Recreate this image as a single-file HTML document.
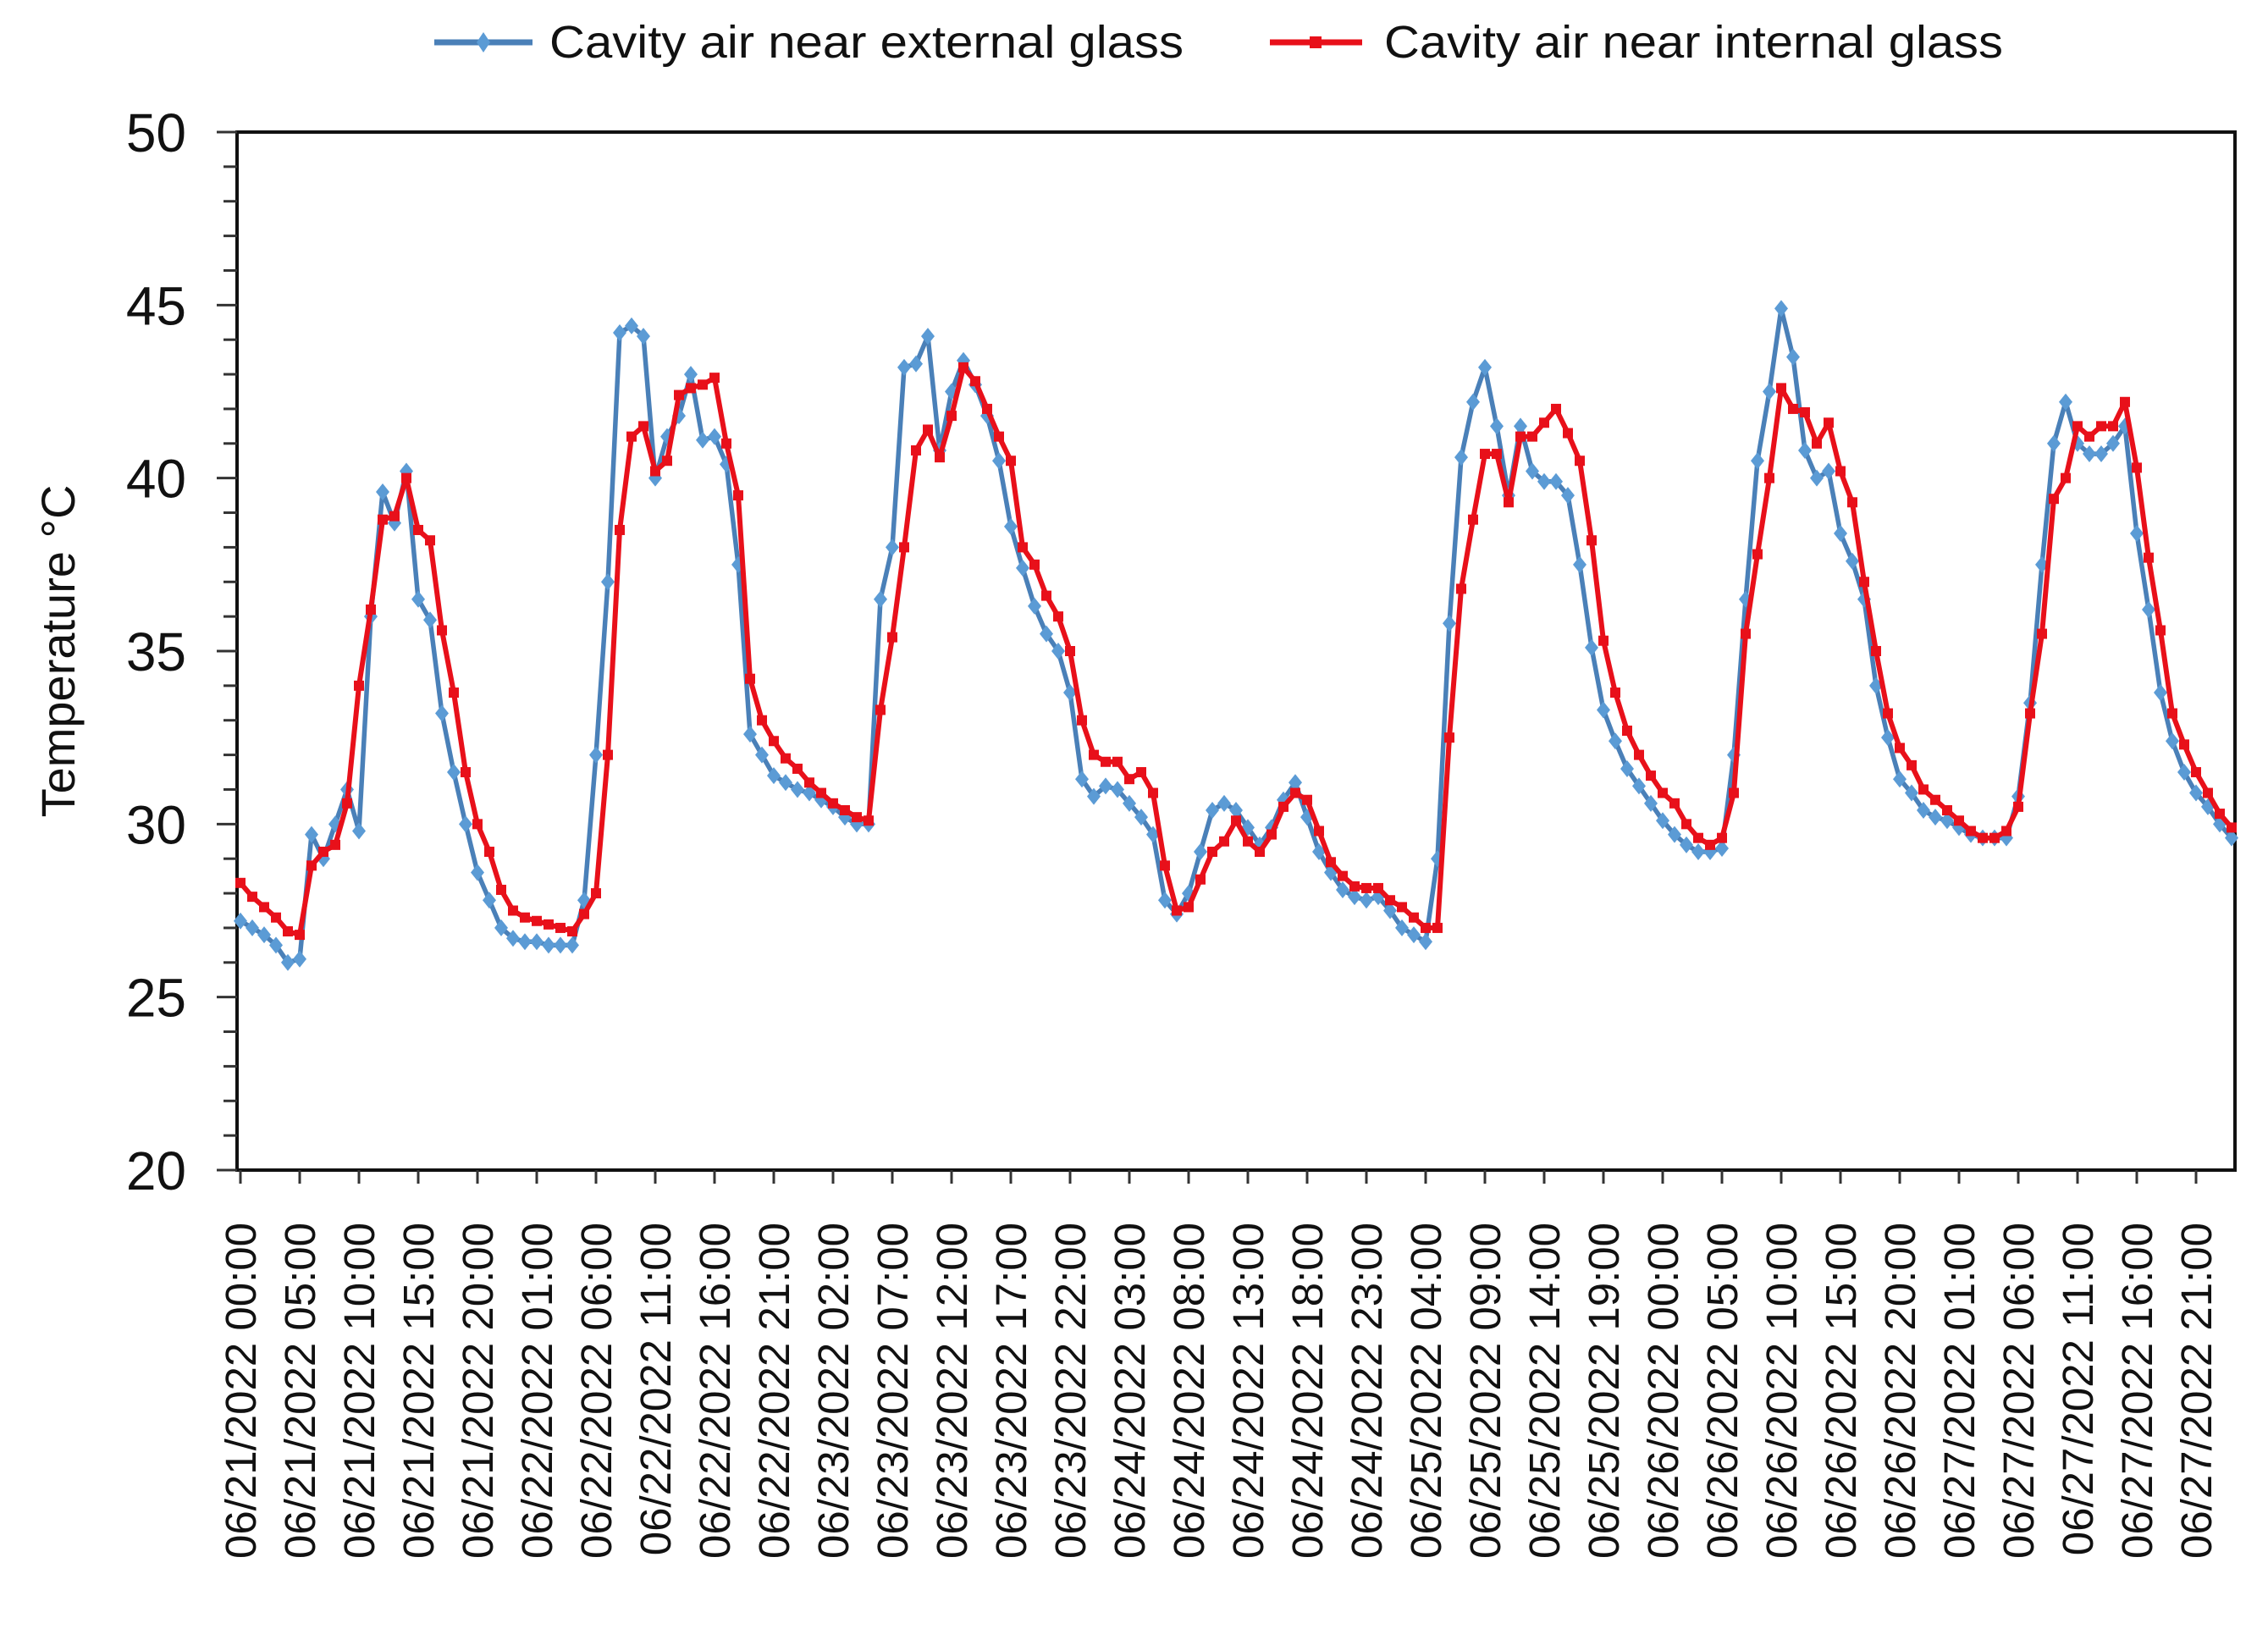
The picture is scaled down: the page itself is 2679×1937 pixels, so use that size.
<!DOCTYPE html>
<html><head><meta charset="utf-8"><style>
html,body{margin:0;padding:0;background:#fff;}
svg{display:block;font-family:"Liberation Sans",Arial,sans-serif;}
</style></head><body>
<svg id="chart" width="2679" height="1937" viewBox="0 0 2679 1937" xmlns="http://www.w3.org/2000/svg">
<rect width="2679" height="1937" fill="#fff"/>
<g>
 <g>
  <line x1="513" y1="50" x2="629" y2="50" stroke="#4a80b8" stroke-width="7"/>
  <path d="M571 38 L579 50 L571 62 L563 50 Z" fill="#5b9bd5"/>
  <text x="649" y="68" font-size="54" textLength="749" lengthAdjust="spacingAndGlyphs" fill="#111">Cavity air near external glass</text>
 </g>
 <g>
  <line x1="1500" y1="50" x2="1609" y2="50" stroke="#e8101a" stroke-width="7"/>
  <rect x="1547" y="43" width="14" height="14" fill="#e8101a"/>
  <text x="1635" y="68" font-size="54" textLength="731" lengthAdjust="spacingAndGlyphs" fill="#111">Cavity air near internal glass</text>
 </g>
</g>
<text transform="translate(88,769) rotate(-90)" text-anchor="middle" font-size="56" fill="#111">Temperature °C</text>
<g id="axes"></g>
<g id="series"></g>
</svg>
<script>
const yTicks=[20,25,30,35,40,45,50];
const xTickHours=[0,5,10,15,20,25,30,35,40,45,50,55,60,65,70,75,80,85,90,95,100,105,110,115,120,125,130,135,140,145,150,155,160,165];
const xTickLabels=["06/21/2022 00:00","06/21/2022 05:00","06/21/2022 10:00","06/21/2022 15:00","06/21/2022 20:00","06/22/2022 01:00","06/22/2022 06:00","06/22/2022 11:00","06/22/2022 16:00","06/22/2022 21:00","06/23/2022 02:00","06/23/2022 07:00","06/23/2022 12:00","06/23/2022 17:00","06/23/2022 22:00","06/24/2022 03:00","06/24/2022 08:00","06/24/2022 13:00","06/24/2022 18:00","06/24/2022 23:00","06/25/2022 04:00","06/25/2022 09:00","06/25/2022 14:00","06/25/2022 19:00","06/26/2022 00:00","06/26/2022 05:00","06/26/2022 10:00","06/26/2022 15:00","06/26/2022 20:00","06/27/2022 01:00","06/27/2022 06:00","06/27/2022 11:00","06/27/2022 16:00","06/27/2022 21:00"];
const externalTemps=[27.2,27.0,26.8,26.5,26.0,26.1,29.7,29.0,30.0,31.0,29.8,36.0,39.6,38.7,40.2,36.5,35.9,33.2,31.5,30.0,28.6,27.8,27.0,26.7,26.6,26.6,26.5,26.5,26.5,27.8,32.0,37.0,44.2,44.4,44.1,40.0,41.2,41.8,43.0,41.1,41.2,40.4,37.5,32.6,32.0,31.4,31.2,31.0,30.9,30.7,30.5,30.2,30.0,30.0,36.5,38.0,43.2,43.3,44.1,40.8,42.5,43.4,42.7,41.8,40.5,38.6,37.4,36.3,35.5,35.0,33.8,31.3,30.8,31.1,31.0,30.6,30.2,29.7,27.8,27.4,28.0,29.2,30.4,30.6,30.4,29.9,29.4,29.9,30.7,31.2,30.2,29.2,28.6,28.1,27.9,27.8,27.9,27.5,27.0,26.8,26.6,29.0,35.8,40.6,42.2,43.2,41.5,39.5,41.5,40.2,39.9,39.9,39.5,37.5,35.1,33.3,32.4,31.6,31.1,30.6,30.1,29.7,29.4,29.2,29.2,29.3,32.0,36.5,40.5,42.5,44.9,43.5,40.8,40.0,40.2,38.4,37.6,36.5,34.0,32.5,31.3,30.9,30.4,30.2,30.1,29.9,29.7,29.6,29.6,29.6,30.8,33.5,37.5,41.0,42.2,41.0,40.7,40.7,41.0,41.5,38.4,36.2,33.8,32.4,31.5,30.9,30.5,30.0,29.6];
const internalTemps=[28.3,27.9,27.6,27.3,26.9,26.8,28.8,29.2,29.4,30.6,34.0,36.2,38.8,38.9,40.0,38.5,38.2,35.6,33.8,31.5,30.0,29.2,28.1,27.5,27.3,27.2,27.1,27.0,26.9,27.4,28.0,32.0,38.5,41.2,41.5,40.2,40.5,42.4,42.6,42.7,42.9,41.0,39.5,34.2,33.0,32.4,31.9,31.6,31.2,30.9,30.6,30.4,30.2,30.1,33.3,35.4,38.0,40.8,41.4,40.6,41.8,43.2,42.8,42.0,41.2,40.5,38.0,37.5,36.6,36.0,35.0,33.0,32.0,31.8,31.8,31.3,31.5,30.9,28.8,27.5,27.6,28.4,29.2,29.5,30.1,29.5,29.2,29.7,30.5,30.9,30.7,29.8,28.9,28.5,28.2,28.15,28.15,27.8,27.6,27.3,27.0,27.0,32.5,36.8,38.8,40.7,40.7,39.3,41.2,41.2,41.6,42.0,41.3,40.5,38.2,35.3,33.8,32.7,32.0,31.4,30.9,30.6,30.0,29.6,29.4,29.6,30.9,35.5,37.8,40.0,42.6,42.0,41.9,41.0,41.6,40.2,39.3,37.0,35.0,33.2,32.2,31.7,31.0,30.7,30.4,30.1,29.8,29.6,29.6,29.8,30.5,33.2,35.5,39.4,40.0,41.5,41.2,41.5,41.5,42.2,40.3,37.7,35.6,33.2,32.3,31.5,30.9,30.3,29.9];

const NS="http://www.w3.org/2000/svg";
const L=280,R=2640,T=156,B=1382,X0=284,PXH=14.0;
function xs(h){return X0+h*PXH;}
function ys(v){return B-(v-20)*(B-T)/30;}
function mk(tag,attrs,parent){const e=document.createElementNS(NS,tag);for(const k in attrs)e.setAttribute(k,attrs[k]);parent.appendChild(e);return e;}
const axes=document.getElementById('axes'),ser=document.getElementById('series');

const frame=mk('rect',{x:L,y:T,width:R-L,height:B-T,fill:'none',stroke:'#111','stroke-width':4},axes);


for(let v=20;v<=50;v++){
  const t=mk('line',{x1:L-(v%5===0?24:16),x2:L,y1:ys(v),y2:ys(v),stroke:'#333','stroke-width':3},axes);
  
  
}
yTicks.forEach(v=>{
  const t=mk('text',{x:220,y:ys(v)+23,'text-anchor':'end','font-size':64,fill:'#111'},axes);
  t.textContent=v;
  
  
});
xTickHours.forEach((h,i)=>{
  const tk=mk('line',{x1:xs(h),x2:xs(h),y1:B,y2:B+16,stroke:'#333','stroke-width':3},axes);
  
  
  if(i<xTickLabels.length){
    const t=mk('text',{transform:`translate(${xs(h)+18},1444) rotate(-90)`,'text-anchor':'end','font-size':51,fill:'#111'},axes);
    t.textContent=xTickLabels[i];
    
    
  }
});
function drawSeries(vals,color,mcolor,shape,name,sw){
  const g=mk('g',{},ser);
  
  
  const pts=vals.map((v,i)=>xs(i).toFixed(1)+','+ys(v).toFixed(1)).join(' ');
  const pl=mk('polyline',{points:pts,fill:'none',stroke:color,'stroke-width':sw,'stroke-linejoin':'round'},g);
  
  
  vals.forEach((v,i)=>{
    const x=xs(i),y=ys(v);
    let m;
    if(shape==='diamond') m=mk('path',{d:`M${x} ${y-10} L${x+8} ${y} L${x} ${y+10} L${x-8} ${y} Z`,fill:mcolor},g);
    else m=mk('rect',{x:x-6,y:y-6,width:12,height:12,fill:mcolor},g);
    
    
  });
}
drawSeries(externalTemps,'#4a80b8','#5b9bd5','diamond','external-glass-series',5.5);
drawSeries(internalTemps,'#e8101a','#e8101a','square','internal-glass-series',6);
</script>
</body></html>
